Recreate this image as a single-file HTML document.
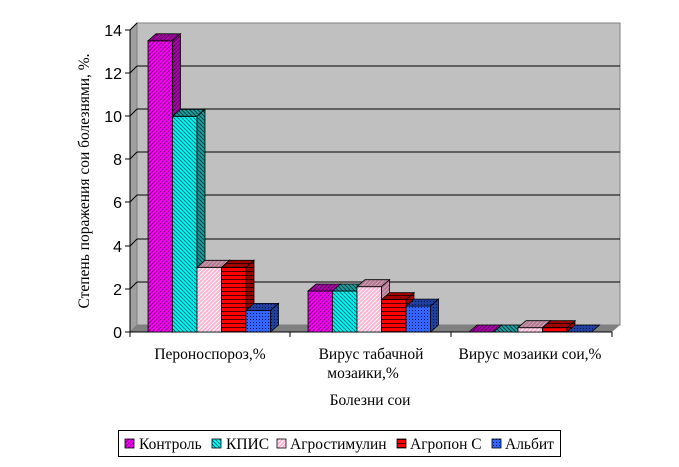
<!DOCTYPE html><html><head><meta charset="utf-8"><style>body{margin:0;background:#fff}svg{display:block;font-family:"Liberation Serif",serif}</style></head><body>
<svg width="679" height="467" viewBox="0 0 679 467">
<defs>
<pattern id="pm" width="4" height="4" patternUnits="userSpaceOnUse"><rect width="4" height="4" fill="#ff00ff"/><path d="M0 4L4 0M-1 1L1 -1M3 5L5 3" stroke="#800080" stroke-width="1"/></pattern>
<pattern id="pmd" width="4" height="4" patternUnits="userSpaceOnUse"><rect width="4" height="4" fill="#b000b0"/><path d="M0 4L4 0M-1 1L1 -1M3 5L5 3" stroke="#500050" stroke-width="1"/></pattern>
<pattern id="pc" width="4" height="4" patternUnits="userSpaceOnUse"><rect width="4" height="4" fill="#00ffff"/><path d="M0 0L4 4M-1 3L1 5M3 -1L5 1" stroke="#007070" stroke-width="1"/></pattern>
<pattern id="pcd" width="4" height="4" patternUnits="userSpaceOnUse"><rect width="4" height="4" fill="#20a0a0"/><path d="M0 0L4 4M-1 3L1 5M3 -1L5 1" stroke="#004040" stroke-width="1"/></pattern>
<pattern id="pp" width="4" height="4" patternUnits="userSpaceOnUse"><rect width="4" height="4" fill="#ffb0d0"/><path d="M0 4L4 0M-1 1L1 -1M3 5L5 3" stroke="#fff" stroke-width="1"/></pattern>
<pattern id="ppd" width="4" height="4" patternUnits="userSpaceOnUse"><rect width="4" height="4" fill="#b07890"/><path d="M0 4L4 0M-1 1L1 -1M3 5L5 3" stroke="#d0a0b0" stroke-width="1"/></pattern>
<pattern id="pr" width="4" height="4" patternUnits="userSpaceOnUse"><rect width="4" height="4" fill="#ff0000"/><path d="M0 3.5H4" stroke="#500000" stroke-width="1"/></pattern>
<pattern id="prd" width="4" height="4" patternUnits="userSpaceOnUse"><rect width="4" height="4" fill="#a00000"/><path d="M0 3.5H4" stroke="#300000" stroke-width="1"/></pattern>
<pattern id="pb" width="3" height="3" patternUnits="userSpaceOnUse"><rect width="3" height="3" fill="#3366ff"/><rect x="1" y="1" width="1" height="1" fill="#001060"/></pattern>
<pattern id="pbd" width="3" height="3" patternUnits="userSpaceOnUse"><rect width="3" height="3" fill="#2040a0"/><rect x="1" y="1" width="1" height="1" fill="#001040"/></pattern>
</defs>
<polygon points="130,30 137,23 137,325 130,332" fill="#a0a0a0" stroke="#808080"/>
<rect x="137" y="23" width="483" height="302" fill="#c0c0c0" stroke="#808080"/>
<polygon points="130,332 137,325 620,325 612,332" fill="#808080"/>
<g stroke="#000" stroke-width="1">
<line x1="130" y1="289" x2="137" y2="282"/><line x1="137" y1="282" x2="620" y2="282"/>
<line x1="130" y1="246" x2="137" y2="239"/><line x1="137" y1="239" x2="620" y2="239"/>
<line x1="130" y1="202" x2="137" y2="195"/><line x1="137" y1="195" x2="620" y2="195"/>
<line x1="130" y1="159" x2="137" y2="152"/><line x1="137" y1="152" x2="620" y2="152"/>
<line x1="130" y1="116" x2="137" y2="109"/><line x1="137" y1="109" x2="620" y2="109"/>
<line x1="130" y1="73" x2="137" y2="66"/><line x1="137" y1="66" x2="620" y2="66"/>
<line x1="130" y1="30" x2="137" y2="23"/>
</g>
<g stroke="#000"><line x1="130" y1="30" x2="130" y2="332"/><line x1="130" y1="332" x2="612" y2="332"/>
<line x1="125" y1="332" x2="130" y2="332"/><line x1="125" y1="289" x2="130" y2="289"/><line x1="125" y1="246" x2="130" y2="246"/><line x1="125" y1="202" x2="130" y2="202"/><line x1="125" y1="159" x2="130" y2="159"/><line x1="125" y1="116" x2="130" y2="116"/><line x1="125" y1="73" x2="130" y2="73"/><line x1="125" y1="30" x2="130" y2="30"/>
<line x1="130" y1="332" x2="130" y2="337"/><line x1="290" y1="332" x2="290" y2="337"/><line x1="451" y1="332" x2="451" y2="337"/><line x1="612" y1="332" x2="612" y2="337"/></g>
<g font-family="Liberation Sans,sans-serif" font-size="16" text-anchor="end">
<text x="122" y="338">0</text><text x="122" y="295">2</text><text x="122" y="252">4</text><text x="122" y="208">6</text><text x="122" y="165">8</text><text x="122" y="122">10</text><text x="122" y="79">12</text><text x="122" y="36">14</text></g>
<g stroke="#000" stroke-width="0.8">
<rect x="148" y="40.8" width="24.5" height="291.2" fill="url(#pm)"/><polygon points="148,40.8 156,33.8 180.5,33.8 172.5,40.8" fill="url(#pmd)"/><polygon points="172.5,40.8 180.5,33.8 180.5,325 172.5,332" fill="url(#pmd)"/>
<rect x="172.5" y="116.3" width="24.5" height="215.7" fill="url(#pc)"/><polygon points="172.5,116.3 180.5,109.3 205,109.3 197,116.3" fill="url(#pcd)"/><polygon points="197,116.3 205,109.3 205,325 197,332" fill="url(#pcd)"/>
<rect x="197" y="267.3" width="24.5" height="64.7" fill="url(#pp)"/><polygon points="197,267.3 205,260.3 229.5,260.3 221.5,267.3" fill="url(#ppd)"/><polygon points="221.5,267.3 229.5,260.3 229.5,325 221.5,332" fill="url(#ppd)"/>
<rect x="221.5" y="267.3" width="24.5" height="64.7" fill="url(#pr)"/><polygon points="221.5,267.3 229.5,260.3 254,260.3 246,267.3" fill="url(#prd)"/><polygon points="246,267.3 254,260.3 254,325 246,332" fill="url(#prd)"/>
<rect x="246" y="310.4" width="24.5" height="21.6" fill="url(#pb)"/><polygon points="246,310.4 254,303.4 278.5,303.4 270.5,310.4" fill="url(#pbd)"/><polygon points="270.5,310.4 278.5,303.4 278.5,325 270.5,332" fill="url(#pbd)"/>
<rect x="308" y="291" width="24.5" height="41" fill="url(#pm)"/><polygon points="308,291 316,284 340.5,284 332.5,291" fill="url(#pmd)"/><polygon points="332.5,291 340.5,284 340.5,325 332.5,332" fill="url(#pmd)"/>
<rect x="332.5" y="291" width="24.5" height="41" fill="url(#pc)"/><polygon points="332.5,291 340.5,284 365,284 357,291" fill="url(#pcd)"/><polygon points="357,291 365,284 365,325 357,332" fill="url(#pcd)"/>
<rect x="357" y="286.7" width="24.5" height="45.3" fill="url(#pp)"/><polygon points="357,286.7 365,279.7 389.5,279.7 381.5,286.7" fill="url(#ppd)"/><polygon points="381.5,286.7 389.5,279.7 389.5,325 381.5,332" fill="url(#ppd)"/>
<rect x="381.5" y="299.6" width="24.5" height="32.4" fill="url(#pr)"/><polygon points="381.5,299.6 389.5,292.6 414,292.6 406,299.6" fill="url(#prd)"/><polygon points="406,299.6 414,292.6 414,325 406,332" fill="url(#prd)"/>
<rect x="406" y="306.1" width="24.5" height="25.9" fill="url(#pb)"/><polygon points="406,306.1 414,299.1 438.5,299.1 430.5,306.1" fill="url(#pbd)"/><polygon points="430.5,306.1 438.5,299.1 438.5,325 430.5,332" fill="url(#pbd)"/>
<polygon points="469,332 477,325 501.5,325 493.5,332" fill="url(#pmd)"/>
<polygon points="493.5,332 501.5,325 526,325 518,332" fill="url(#pcd)"/>
<rect x="518" y="327.7" width="24.5" height="4.3" fill="url(#pp)"/><polygon points="518,327.7 526,320.7 550.5,320.7 542.5,327.7" fill="url(#ppd)"/><polygon points="542.5,327.7 550.5,320.7 550.5,325 542.5,332" fill="url(#ppd)"/>
<rect x="542.5" y="327.7" width="24.5" height="4.3" fill="url(#pr)"/><polygon points="542.5,327.7 550.5,320.7 575,320.7 567,327.7" fill="url(#prd)"/><polygon points="567,327.7 575,320.7 575,325 567,332" fill="url(#prd)"/>
<polygon points="567,332 575,325 599.5,325 591.5,332" fill="url(#pbd)"/>
</g>
<g font-size="15.5" text-anchor="middle">
<text x="210" y="359">Пероноспороз,%</text>
<text x="371" y="359">Вирус табачной</text><text x="363" y="378">мозаики,%</text>
<text x="530" y="359">Вирус мозаики сои,%</text>
<text x="370" y="405">Болезни сои</text>
<text transform="translate(89,181) rotate(-90)">Степень поражения сои болезнями, %.</text>
</g>
<rect x="118.5" y="430.5" width="442" height="26" fill="#fff" stroke="#000"/>
<g stroke="#000" stroke-width="0.8">
<rect x="125" y="439" width="9" height="9" fill="url(#pm)"/><rect x="212" y="439" width="9" height="9" fill="url(#pc)"/><rect x="277" y="439" width="9" height="9" fill="url(#pp)"/><rect x="397" y="439" width="9" height="9" fill="url(#pr)"/><rect x="492" y="439" width="9" height="9" fill="url(#pb)"/></g>
<g font-size="15.5"><text x="139" y="449">Контроль</text><text x="226" y="449">КПИС</text><text x="290" y="449">Агростимулин</text><text x="410" y="449">Агропон С</text><text x="505" y="449">Альбит</text></g>
</svg></body></html>
